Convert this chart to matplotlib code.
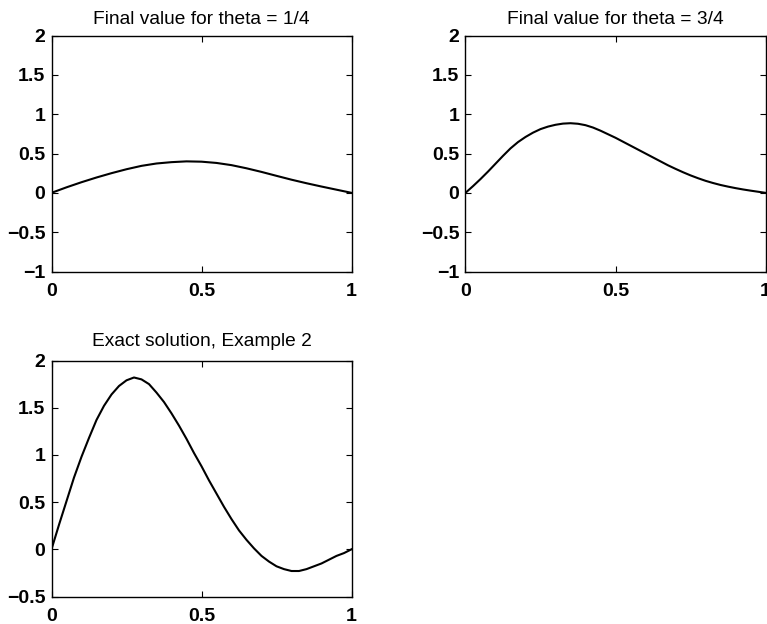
import numpy as np
import matplotlib
matplotlib.use("Agg")
import matplotlib.pyplot as plt

plt.rcParams['font.family'] = ['Liberation Sans', 'DejaVu Sans']

# ---- data ----
x1 = [0.00, 0.05, 0.10, 0.15, 0.20, 0.25, 0.30, 0.35, 0.40, 0.45, 0.50,
      0.55, 0.60, 0.65, 0.70, 0.75, 0.80, 0.85, 0.90, 0.95, 1.00]
y1 = [0.000, 0.070, 0.135, 0.195, 0.250, 0.300, 0.343, 0.373, 0.390, 0.400, 0.396,
      0.380, 0.352, 0.312, 0.266, 0.216, 0.167, 0.122, 0.080, 0.040, 0.000]

x2 = [0.000, 0.025, 0.050, 0.075, 0.100, 0.125, 0.150, 0.175, 0.200, 0.225,
      0.250, 0.275, 0.300, 0.325, 0.350, 0.375, 0.400, 0.425, 0.450, 0.475,
      0.500, 0.525, 0.550, 0.575, 0.600, 0.625, 0.650, 0.675, 0.700, 0.725,
      0.750, 0.775, 0.800, 0.825, 0.850, 0.875, 0.900, 0.925, 0.950, 0.975, 1.000]
y2 = [0.000, 0.085, 0.175, 0.270, 0.370, 0.470, 0.565, 0.645, 0.710, 0.765,
      0.810, 0.842, 0.865, 0.880, 0.885, 0.878, 0.860, 0.830, 0.790, 0.745,
      0.700, 0.650, 0.600, 0.550, 0.500, 0.450, 0.400, 0.350, 0.305, 0.262,
      0.222, 0.186, 0.153, 0.125, 0.100, 0.079, 0.060, 0.043, 0.028, 0.014, 0.000]

x3 = x2
y3 = [0.00, 0.26, 0.51, 0.76, 0.98, 1.18, 1.37, 1.52, 1.64, 1.73,
      1.79, 1.82, 1.80, 1.75, 1.66, 1.56, 1.44, 1.31, 1.17, 1.02,
      0.88, 0.73, 0.59, 0.45, 0.32, 0.20, 0.10, 0.01, -0.07, -0.13,
      -0.18, -0.21, -0.23, -0.23, -0.21, -0.18, -0.15, -0.11, -0.07, -0.04, 0.00]

titles = ["Final value for theta = 1/4", "Final value for theta = 3/4",
          "Exact solution, Example 2"]
xticks = [0, 0.5, 1]
xticklabels = ["0", "0.5", "1"]
yticks_top = [-1, -0.5, 0, 0.5, 1, 1.5, 2]
yticklabels_top = ["\u22121", "\u22120.5", "0", "0.5", "1", "1.5", "2"]
yticks_bot = [-0.5, 0, 0.5, 1, 1.5, 2]
yticklabels_bot = ["\u22120.5", "0", "0.5", "1", "1.5", "2"]

W, H = 767, 624
fig = plt.figure(figsize=(W / 100, H / 100), dpi=100)

def px_axes(l, t, r, b):
    return fig.add_axes([l / W, 1 - b / H, (r - l) / W, (b - t) / H])

ax1 = px_axes(51.5, 35.5, 351.5, 271.5)
ax2 = px_axes(465.5, 35.5, 765.5, 271.5)
ax3 = px_axes(51.5, 360.5, 351.5, 596.5)

specs = [
    (ax1, x1, y1, titles[0], (-1, 2), yticks_top, yticklabels_top, 8.5),
    (ax2, x2, y2, titles[1], (-1, 2), yticks_top, yticklabels_top, 8.5),
    (ax3, x3, y3, titles[2], (-0.5, 2), yticks_bot, yticklabels_bot, 10.5),
]

for ax, xs, ys, title, ylim, yt, ytl, tpad in specs:
    ax.plot(xs, ys, color='black', lw=1.5)
    ax.set_xlim(0, 1)
    ax.set_ylim(*ylim)
    ax.set_xticks(xticks)
    ax.set_xticklabels(xticklabels)
    ax.set_yticks(yt)
    ax.set_yticklabels(ytl)
    ax.tick_params(direction='in', top=True, right=True, length=4, width=0.8,
                   labelsize=14)
    ax.tick_params(axis='x', pad=8)
    ax.tick_params(axis='y', pad=4.5)
    for lab in ax.get_xticklabels() + ax.get_yticklabels():
        lab.set_fontweight('bold')
    for s in ax.spines.values():
        s.set_linewidth(1.0)
    ax.set_title(title, fontsize=13.8, pad=tpad)

fig.savefig("out.png", dpi=100)
